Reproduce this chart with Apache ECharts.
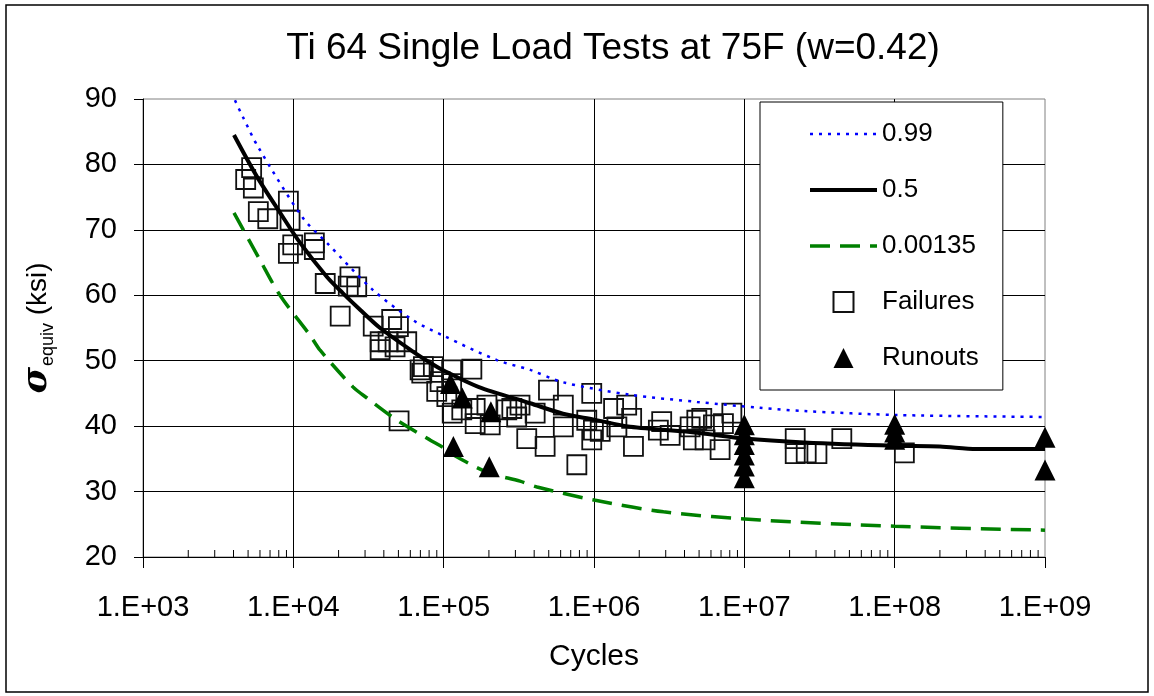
<!DOCTYPE html>
<html>
<head>
<meta charset="utf-8">
<script src="https://cdn.jsdelivr.net/npm/echarts@6/dist/echarts.min.js"></script>
<style>html,body{margin:0;padding:0;background:#fff}#c{width:1154px;height:696px}</style>
</head>
<body>
<div id="c"></div>
<script>
// ---- data (cycles, sigma_equiv ksi) ----
const curve099 = [[4090,89.8],[4630,87.2],[5820,82.7],[11600,71.8],[16750,68.0],[33900,60.8],[62500,56.2],[100000,53.8],[226000,50.1],[376000,48.6],[622000,46.7],[1740000,44.8],[4850000,43.7],[12700000,42.8],[25000000,42.3],[106000000,41.7],[1000000000,41.4]];
const curve05 = [[4030,84.5],[5740,78.1],[8170,72.6],[11100,68.0],[16750,62.8],[21400,60.3],[27800,57.8],[37800,55.0],[62500,51.4],[81300,49.7],[100000,48.5],[170000,46.0],[376000,43.5],[622000,41.9],[1000000,41.0],[1740000,39.9],[4850000,39.0],[10000000,38.1],[25000000,37.5],[100000000,37.0],[200000000,36.9],[350000000,36.5],[1000000000,36.5]];
const curve000135 = [[4030,72.6],[6000,65.4],[8150,60.0],[12900,53.9],[15070,51.6],[24900,46.0],[30900,44.3],[49000,40.9],[81000,37.9],[100000,36.7],[116000,35.6],[197000,32.9],[322000,31.6],[418000,30.7],[1000000,28.7],[2900000,26.9],[12700000,25.65],[100000000,24.7],[1000000000,24.1]];
const failures = [[5280,79.5],[4820,77.7],[5420,76.4],[5850,72.8],[6760,71.7],[9270,74.4],[9510,71.5],[9910,67.7],[9270,66.4],[13800,68.0],[13800,67.0],[16300,61.8],[23800,62.8],[23200,61.4],[26400,61.3],[20500,56.8],[34000,55.3],[45100,56.3],[50000,55.2],[37800,52.9],[56800,52.9],[37800,51.7],[47500,52.1],[42700,52.9],[50500,40.8],[69700,48.6],[85400,49.1],[94600,46.8],[89900,45.3],[113000,48.6],[113000,46.5],[154000,48.7],[105000,44.5],[132000,42.5],[162000,40.4],[204000,40.2],[194000,43.2],[263000,42.5],[306000,41.4],[357000,38.1],[114000,42.0],[73300,49.1],[71500,48.1],[162000,42.7],[284000,42.7],[322000,43.2],[498000,45.5],[406000,42.0],[625000,43.2],[473000,36.9],[625000,39.9],[966000,45.0],[895000,40.9],[991000,39.4],[966000,37.9],[1100000,39.2],[1350000,42.7],[1650000,43.2],[1420000,39.9],[1780000,41.2],[1830000,36.9],[769000,34.1],[2820000,40.7],[2680000,39.4],[3210000,38.6],[4360000,39.9],[4830000,40.9],[4580000,37.9],[5210000,41.2],[8260000,42.0],[7260000,40.4],[6230000,40.2],[5480000,37.9],[6900000,36.4],[21800000,38.1],[21800000,35.8],[25800000,35.9],[30400000,35.8],[44500000,38.1],[116000000,35.9]];
const runouts = [[111000,46.5],[133000,44.3],[206000,42.2],[116000,36.9],[201000,33.8],[10000000,40.2],[10000000,38.7],[10000000,37.2],[10000000,35.6],[10000000,33.9],[10000000,32.1],[100000000,40.3],[100000000,39.1],[100000000,38.0],[1000000000,38.3],[1000000000,33.3]];
const legendNames = ['0.99','0.5','0.00135','Failures','Runouts'];
const decades = [1e3,1e4,1e5,1e6,1e7,1e8];
const minorFactors = [2,3,4,5,6,7,8,9];
const minorTicks = [];
decades.forEach(d => minorFactors.forEach(f => minorTicks.push([d*f, 20])));

const FONT = 'Liberation Sans, Arial, sans-serif';
const noSymbol = {color: 'rgba(0,0,0,0)', borderColor: 'rgba(0,0,0,0)', borderWidth: 0};
const style099 = {color: '#0000ff', width: 2.5, type: [3, 6]};
const style05 = {color: '#000', width: 4, type: 'solid'};
const style000135 = {color: '#008000', width: 3.5, type: [20, 10]};
const chart = echarts.init(document.getElementById('c'), null, {renderer:'canvas'});
chart.setOption({
  animation: false,
  backgroundColor: '#fff',
  title: {
    text: 'Ti 64 Single Load Tests at 75F (w=0.42)',
    left: 608, top: 25, textAlign: 'center',
    textStyle: {fontFamily: FONT, fontSize: 37, fontWeight: 'normal', color: '#000'}
  },
  graphic: [{
    type: 'rect', z: -1,
    shape: {x: 6, y: 5, width: 1142, height: 687},
    style: {fill: 'none', stroke: '#000', lineWidth: 1.5}
  }],
  grid: {left: 143, right: 109, top: 99, bottom: 139, show: true, borderColor: '#808080', borderWidth: 1},
  legend: {
    orient: 'vertical', left: 760, top: 102,
    itemWidth: 67, itemHeight: 20, itemGap: 30,
    padding: [19, 24, 19, 48],
    backgroundColor: '#fff', borderColor: '#000', borderWidth: 1,
    selectedMode: false, symbolKeepAspect: true,
    textStyle: {fontFamily: FONT, fontSize: 26, color: '#000'},
    data: [
      {name: legendNames[0], itemStyle: noSymbol, lineStyle: style099},
      {name: legendNames[1], itemStyle: noSymbol, lineStyle: style05},
      {name: legendNames[2], itemStyle: noSymbol, lineStyle: style000135},
      {name: legendNames[3], icon: 'path://M0,0L20,0L20,20L0,20Z'},
      {name: legendNames[4], icon: 'path://M10,0L20,20L0,20Z'}
    ]
  },
  xAxis: {
    type: 'log', logBase: 10, min: 1000, max: 1e9, splitNumber: 6,
    name: 'Cycles', nameLocation: 'middle', nameGap: 85,
    nameTextStyle: {fontFamily: FONT, fontSize: 30, color: '#000'},
    axisLine: {lineStyle: {color: '#000', width: 1}},
    axisTick: {show: true, inside: false, length: 11, lineStyle: {color: '#000'}},
    axisLabel: {
      margin: 36, fontFamily: FONT, fontSize: 29, color: '#000',
      formatter: v => { const e = Math.round(Math.log10(v)); return '1.E+' + (e < 10 ? '0' + e : e); }
    },
    splitLine: {show: true, showMaxLine: false, lineStyle: {color: '#000', width: 1}}
  },
  yAxis: {
    type: 'value', min: 20, max: 90, interval: 10,
    name: '{s|σ}{sub|equiv}{n| (ksi)}', nameLocation: 'middle', nameGap: 86,
    nameTextStyle: {
      fontFamily: FONT, color: '#000',
      rich: {
        s: {fontSize: 36, fontStyle: 'italic', fontWeight: 'bold', fontFamily: 'DejaVu Serif', verticalAlign: 'top', color: '#000'},
        sub: {fontSize: 18, fontFamily: FONT, verticalAlign: 'top', padding: [20, 0, 0, 1], color: '#000'},
        n: {fontSize: 28, fontFamily: FONT, verticalAlign: 'top', padding: [5, 0, 0, 0], color: '#000'}
      }
    },
    axisLine: {show: true, lineStyle: {color: '#000', width: 1}},
    axisTick: {show: true, inside: false, length: 9, lineStyle: {color: '#000'}},
    axisLabel: {margin: 26, fontFamily: FONT, fontSize: 29, color: '#000'},
    splitLine: {show: true, showMaxLine: false, showMinLine: false, lineStyle: {color: '#000', width: 1}}
  },
  series: [
    {
      name: 'Failures', type: 'scatter', data: failures, z: 2,
      symbol: 'rect', symbolSize: 19, silent: true,
      itemStyle: {color: 'rgba(255,255,255,0)', borderColor: '#111', borderWidth: 1.8, opacity: 1}
    },
    {
      name: '0.99', type: 'line', data: curve099, z: 3, symbol: 'none', smooth: 0.3, silent: true,
      itemStyle: {color: '#0000ff'},
      lineStyle: style099
    },
    {
      name: '0.5', type: 'line', data: curve05, z: 3, symbol: 'none', smooth: 0.3, silent: true,
      itemStyle: {color: '#000'},
      lineStyle: style05
    },
    {
      name: '0.00135', type: 'line', data: curve000135, z: 3, symbol: 'none', smooth: 0.3, silent: true,
      itemStyle: {color: '#008000'},
      lineStyle: style000135
    },
    {
      name: 'Runouts', type: 'scatter', data: runouts, z: 4,
      symbol: 'triangle', symbolSize: 21, silent: true,
      itemStyle: {color: '#000', opacity: 1}
    },
    {
      name: 'minorTicks', type: 'custom', data: minorTicks, silent: true, z: 1,
      renderItem: (params, api) => {
        const p = api.coord([api.value(0), api.value(1)]);
        return {type: 'line', shape: {x1: p[0], y1: p[1], x2: p[0], y2: p[1] - 7}, style: {stroke: '#000', lineWidth: 1}};
      }
    }
  ]
});
</script>
</body>
</html>
